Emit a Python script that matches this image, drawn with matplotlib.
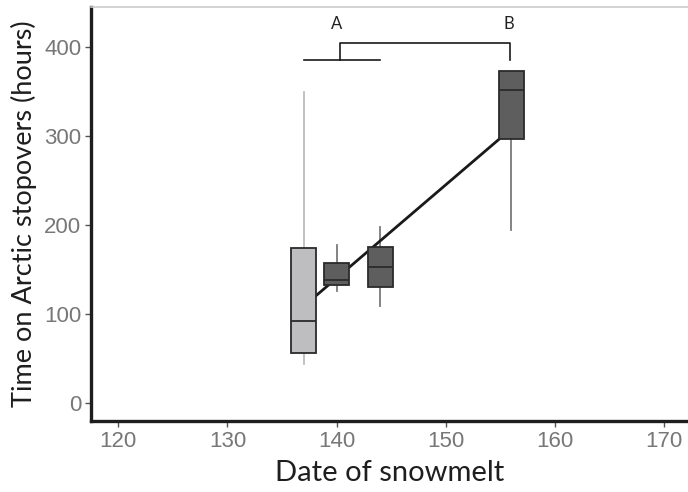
import matplotlib.pyplot as plt
from matplotlib import font_manager

# -----------------------------
# Data
# -----------------------------
dates = [137, 140, 144, 156]
whislo = [44, 126, 109, 194]
q1 = [56, 132, 130, 296]
med = [92, 137.5, 152, 351]
q3 = [174, 157, 175, 373]
whishi = [349, 177, 197, 373]
box_fill = ["#bebec0", "#5e5e5e", "#5e5e5e", "#5e5e5e"]
whisker_col = ["#bdbdbd", "#7a7a7a", "#7a7a7a", "#7a7a7a"]

# regression line over the data range
line_x = [137, 156]
line_y = [108.5, 307.7]

# significance groups
group_a = [137, 144]
group_a_mid = 140.3
group_b = 155.9
bracket_low = 385
bracket_high = 404.5
labels = ["A", "B"]

xticks = [120, 130, 140, 150, 160, 170]
yticks = [0, 100, 200, 300, 400]


def pick(names):
    have = {f.name for f in font_manager.fontManager.ttflist}
    for n in names:
        if n in have:
            return n
    return "DejaVu Sans"


tick_font = pick(["Liberation Sans Narrow", "Liberation Sans"])
label_font = pick(["Lato", "Open Sans"])

fig = plt.figure(figsize=(6.88, 4.92), dpi=100)
ax = fig.add_axes([91 / 688, 1 - 421 / 492, 1 - 91 / 688, (421 - 6.7) / 492])

# regression line: above the whiskers, below the boxes
ax.plot(line_x, line_y, color="#1a1a1a", linewidth=2.0, zorder=2)

for i in range(len(dates)):
    stats = [{"med": med[i], "q1": q1[i], "q3": q3[i],
              "whislo": whislo[i], "whishi": whishi[i], "fliers": []}]
    parts = ax.bxp(
        stats,
        positions=[dates[i]],
        widths=2.3,
        patch_artist=True,
        showcaps=False,
        manage_ticks=False,
        boxprops=dict(facecolor=box_fill[i], edgecolor="#2a2a2a", linewidth=1.3),
        medianprops=dict(color="#2a2a2a", linewidth=1.3),
        whiskerprops=dict(color=whisker_col[i], linewidth=1.3),
    )
    for w in parts["whiskers"]:
        w.set_zorder(1)
    for b in parts["boxes"]:
        b.set_zorder(3)
    for m in parts["medians"]:
        m.set_zorder(4)

# bracket
ax.plot(group_a, [bracket_low, bracket_low], color="#1a1a1a", linewidth=1.2)
ax.plot([group_a_mid, group_a_mid, group_b, group_b],
        [bracket_low, bracket_high, bracket_high, bracket_low],
        color="#1a1a1a", linewidth=1.2)
ax.text(group_a_mid - 0.3, 417, labels[0], ha="center", va="bottom",
        fontsize=12, color="#222222", family=label_font)
ax.text(group_b - 0.1, 417, labels[1], ha="center", va="bottom",
        fontsize=12, color="#222222", family=label_font)

# axes
ax.set_xlim(117.5, 172.2)
ax.set_ylim(-20.6, 445)
ax.set_xticks(xticks)
ax.set_yticks(yticks)

for s in ["left", "bottom"]:
    ax.spines[s].set_linewidth(2.4)
    ax.spines[s].set_color("#1e1e1e")
ax.spines["top"].set_color("#cccccc")
ax.spines["top"].set_linewidth(1.2)
ax.spines["right"].set_visible(False)

ax.tick_params(length=4, width=1, color="#555555", labelcolor="#777777",
               labelsize=16, pad=3)
for t in ax.get_xticklabels() + ax.get_yticklabels():
    t.set_family(tick_font)

ax.set_xlabel("Date of snowmelt", fontsize=21, color="#1e1e1e",
              family=label_font, labelpad=6)
ax.set_ylabel("Time on Arctic stopovers (hours)", fontsize=19.5,
              color="#1e1e1e", family=label_font, labelpad=5)

fig.savefig("out.png", dpi=100)
